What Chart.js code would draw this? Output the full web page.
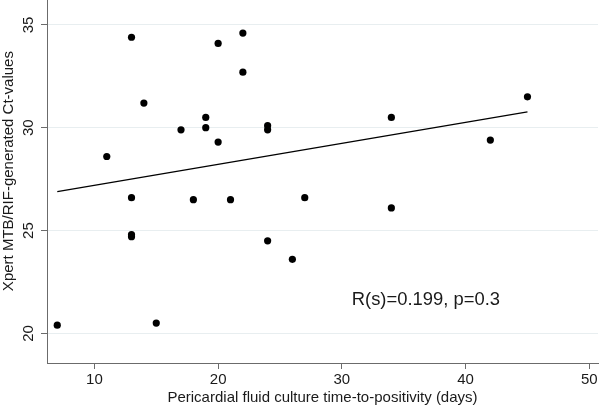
<!DOCTYPE html>
<html><head><meta charset="utf-8">
<script src="https://cdn.jsdelivr.net/npm/chart.js@4/dist/chart.umd.min.js"></script>
<style>html,body{margin:0;padding:0;background:#fff}#wrap{width:600px;height:408px}</style>
</head><body><div id="wrap"><canvas id="c" width="600" height="408"></canvas></div>
<script>
const ttpDays = [7,11,13,13,13,13,14,15,17,18,19,19,20,20,21,22,22,24,24,24,26,27,34,34,42,45];
const ctValues = [20.4,28.6,34.4,26.6,24.8,24.7,31.2,20.5,29.9,26.5,30.5,30.0,34.1,29.3,26.5,34.6,32.7,30.1,29.9,24.5,23.6,26.6,30.5,26.1,29.4,31.5];
const xTicks = [10,20,30,40,50];
const yTicks = [20,25,30,35];
const xTitle = 'Pericardial fluid culture time-to-positivity (days)';
const yTitle = 'Xpert MTB/RIF-generated Ct-values';
const statText = 'R(s)=0.199, p=0.3';

// Ordinary least-squares fit line computed from the data
const n = ttpDays.length;
const mx = ttpDays.reduce((a,b)=>a+b,0)/n;
const my = ctValues.reduce((a,b)=>a+b,0)/n;
let sxy=0, sxx=0;
for (let i=0;i<n;i++){ sxy += (ttpDays[i]-mx)*(ctValues[i]-my); sxx += (ttpDays[i]-mx)**2; }
const slope = sxy/sxx, intercept = my - slope*mx;
const xLo = Math.min(...ttpDays), xHi = Math.max(...ttpDays);
const fitLine = [{x:xLo, y:intercept+slope*xLo},{x:xHi, y:intercept+slope*xHi}];

const FONT = 'Liberation Sans, Arial, Helvetica, sans-serif';
const TXT = '#1a1a1a';
const AXIS = '#6b6b6b';

const statPlugin = {
  id:'stat',
  afterDatasetsDraw(chart){
    const {ctx, scales} = chart;
    ctx.save();
    ctx.font = '18.4px ' + FONT;
    ctx.fillStyle = TXT;
    ctx.textAlign = 'left';
    ctx.textBaseline = 'middle';
    ctx.fillText(statText, scales.x.getPixelForValue(30.8), scales.y.getPixelForValue(21.63));
    ctx.restore();
  }
};

new Chart(document.getElementById('c'), {
  type:'scatter',
  data:{
    datasets:[
      {type:'scatter', data: ttpDays.map((x,i)=>({x, y:ctValues[i]})), pointRadius:3.6, pointHoverRadius:3.6,
       backgroundColor:'#000', borderWidth:0, order:1, clip:false},
      {type:'line', data: fitLine, borderColor:'#000', borderWidth:1.3, pointRadius:0, fill:false, order:2, clip:false}
    ]
  },
  options:{
    responsive:false, animation:false, devicePixelRatio:1,
    layout:{autoPadding:false, padding:{left:0,right:2,top:0,bottom:0}},
    plugins:{legend:{display:false}, tooltip:{enabled:false}},
    scales:{
      x:{type:'linear', min:6.17, max:50.7,
        afterBuildTicks:s=>{s.ticks = xTicks.map(v=>({value:v}));},
        afterFit:s=>{s.height=45; s.paddingLeft=0; s.paddingRight=0;},
        grid:{drawOnChartArea:false, drawTicks:true, tickLength:6, tickColor:AXIS, tickWidth:1},
        border:{display:true, color:AXIS, width:1},
        ticks:{color:TXT, font:{family:FONT, size:15}, padding:2, minRotation:0, maxRotation:0, autoSkip:false},
        title:{display:true, text:xTitle, color:TXT, font:{family:FONT, size:15}, padding:{top:0,bottom:1}}
      },
      y:{type:'linear', min:18.56, max:36.21,
        afterBuildTicks:s=>{s.ticks = yTicks.map(v=>({value:v}));},
        afterFit:s=>{s.width=47; s.paddingTop=0; s.paddingBottom=0;},
        grid:{color:'#e8eef0', lineWidth:1, drawTicks:true, tickLength:6, tickColor:AXIS, tickWidth:1},
        border:{display:true, color:AXIS, width:1},
        ticks:{color:TXT, font:{family:FONT, size:15}, padding:3.5, minRotation:90, maxRotation:90, crossAlign:'center', autoSkip:false},
        title:{display:true, text:'     ' + yTitle, color:TXT, font:{family:FONT, size:15}, padding:{top:0,bottom:0}}
      }
    }
  },
  plugins:[statPlugin]
});
</script></body></html>
